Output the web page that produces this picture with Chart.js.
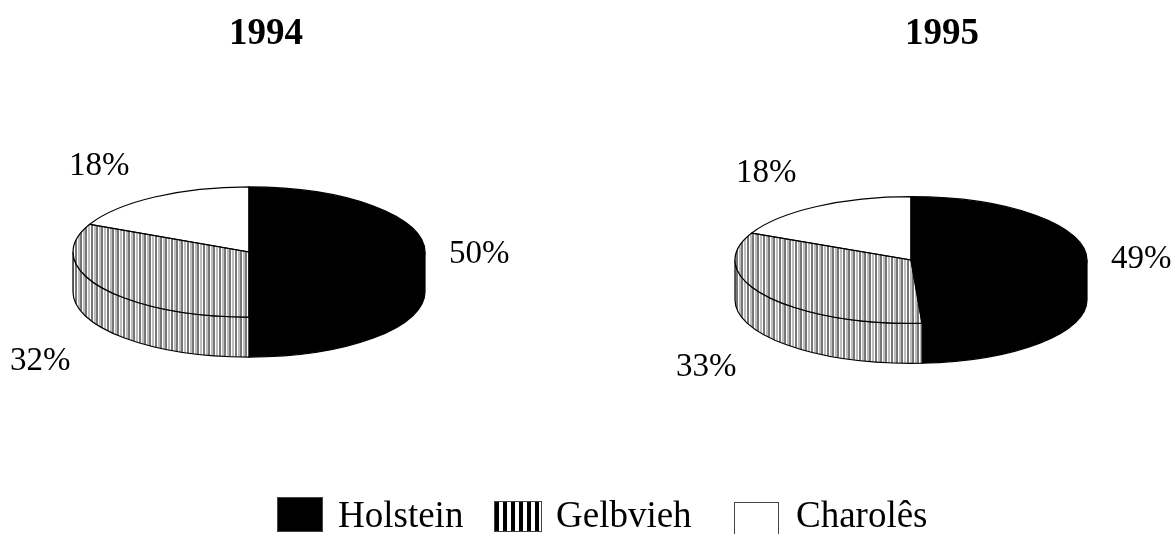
<!DOCTYPE html>
<html>
<head>
<meta charset="utf-8">
<title>Rebanho 1994 / 1995</title>
<script src="https://cdn.jsdelivr.net/npm/chart.js@4"></script>
<style>
  html, body { margin: 0; background: #fff; overflow: hidden; }
  #page { position: relative; width: 1175px; height: 534px; overflow: hidden; font-family: "Liberation Serif", serif; color: #000; }
  canvas { position: absolute; left: 0; top: 0; }
  .swatch { position: absolute; box-sizing: border-box; border: 1px solid #444; }
  .legend-text { position: absolute; font-size: 37px; line-height: 40px; white-space: nowrap; }
</style>
</head>
<body>
<div id="page">
  <canvas id="pie1994" width="1175" height="534"></canvas>
  <canvas id="pie1995" width="1175" height="534"></canvas>
</div>
<script>
const categories = ['Holstein', 'Gelbvieh', 'Charolês'];
const years = ['1994', '1995'];
const values1994 = [50, 32, 18];
const values1995 = [49, 33, 18];

// Vertical stripes used for the Gelbvieh slice, three stripes every 16px
function stripePattern() {
  const c = document.createElement('canvas');
  c.width = 16;
  c.height = 1;
  const g = c.getContext('2d');
  g.fillStyle = '#fff';
  g.fillRect(0, 0, 16, 1);
  [0, 5, 11].forEach(x => {
    g.fillStyle = '#767676';
    g.fillRect(x, 0, 2, 1);
    g.fillStyle = '#bdbdbd';
    g.fillRect(x + 3, 0, 2, 1);
  });
  return document.getElementById('pie1994').getContext('2d').createPattern(c, 'repeat');
}

const stripes = stripePattern();
const sliceColors = ['#000', stripes, '#fff'];

// Draws the flattened disc: side wall below, squashed arcs on top, then outlines and text
const discPlugin = {
  id: 'disc',
  beforeDatasetsDraw(chart, args, opts) {
    const ctx = chart.ctx;
    const arcs = chart.getDatasetMeta(0).data;
    const cx = arcs[0].x, cy = arcs[0].y, r = arcs[0].outerRadius;
    const ry = r * opts.squash;

    // side wall, only the part of each slice that faces the front (0..PI on the canvas)
    arcs.forEach((arc, i) => {
      const a0 = Math.max(arc.startAngle, 0);
      const a1 = Math.min(arc.endAngle, Math.PI);
      if (a1 <= a0) return;
      ctx.beginPath();
      ctx.ellipse(cx, cy, r, ry, 0, a0, a1);
      ctx.ellipse(cx, cy + opts.depth, r, ry, 0, a1, a0, true);
      ctx.closePath();
      ctx.fillStyle = sliceColors[i];
      ctx.fill();
      ctx.lineWidth = 1.2;
      ctx.strokeStyle = '#000';
      ctx.stroke();
    });

    // the library's arcs get squashed into the top face
    ctx.save();
    ctx.translate(0, cy);
    ctx.scale(1, opts.squash);
    ctx.translate(0, -cy);
  },
  afterDatasetsDraw(chart, args, opts) {
    const ctx = chart.ctx;
    ctx.restore();
    const arcs = chart.getDatasetMeta(0).data;
    const cx = arcs[0].x, cy = arcs[0].y, r = arcs[0].outerRadius;
    const ry = r * opts.squash;

    ctx.lineWidth = 1.2;
    ctx.strokeStyle = '#000';
    arcs.forEach(arc => {
      ctx.beginPath();
      ctx.moveTo(cx, cy);
      ctx.ellipse(cx, cy, r, ry, 0, arc.startAngle, arc.endAngle);
      ctx.closePath();
      ctx.stroke();
    });

    ctx.fillStyle = '#000';
    ctx.textBaseline = 'alphabetic';
    ctx.textAlign = 'left';
    ctx.font = 'bold 37px "Liberation Serif"';
    ctx.fillText(opts.year, opts.yearX, 44);
    ctx.font = '33px "Liberation Serif"';
    chart.data.datasets[0].data.forEach((v, i) => {
      ctx.fillText(v + '%', opts.labelX[i], opts.labelY[i]);
    });
  }
};

function makePie(id, values, year, pad, opts) {
  return new Chart(document.getElementById(id), {
    type: 'pie',
    data: {
      labels: categories,
      datasets: [{ data: values, backgroundColor: sliceColors, borderWidth: 0 }]
    },
    options: {
      responsive: false,
      animation: false,
      layout: { padding: pad },
      plugins: {
        legend: { display: false },
        tooltip: { enabled: false },
        disc: Object.assign({ year: year }, opts)
      }
    },
    plugins: [discPlugin]
  });
}

makePie('pie1994', values1994, years[0],
  { left: 73, right: 750, top: 76, bottom: 106 },
  { squash: 0.37, depth: 40, yearX: 229, labelX: [449, 10, 69], labelY: [263, 370, 175] });

makePie('pie1995', values1995, years[1],
  { left: 735, right: 88, top: 84, bottom: 98 },
  { squash: 0.36, depth: 40, yearX: 905, labelX: [1111, 676, 736], labelY: [268, 376, 182] });

// Legend row under the two discs
const page = document.getElementById('page');
const swatchBoxes = [
  { left: 277, top: 497, width: 46, height: 35, background: '#000' },
  { left: 494, top: 501, width: 48, height: 31, background: 'repeating-linear-gradient(90deg, #000 0 4px, #fff 4px 8px)' },
  { left: 734, top: 502, width: 45, height: 40, background: '#fff' }
];
const legendTextX = [338, 556, 796];
categories.forEach((name, i) => {
  const box = swatchBoxes[i];
  const s = document.createElement('div');
  s.className = 'swatch';
  s.style.cssText = `left:${box.left}px;top:${box.top}px;width:${box.width}px;height:${box.height}px;background:${box.background}`;
  page.appendChild(s);
  const t = document.createElement('div');
  t.className = 'legend-text';
  t.textContent = name;
  t.style.left = legendTextX[i] + 'px';
  t.style.top = '495px';
  page.appendChild(t);
});
</script>
</body>
</html>
